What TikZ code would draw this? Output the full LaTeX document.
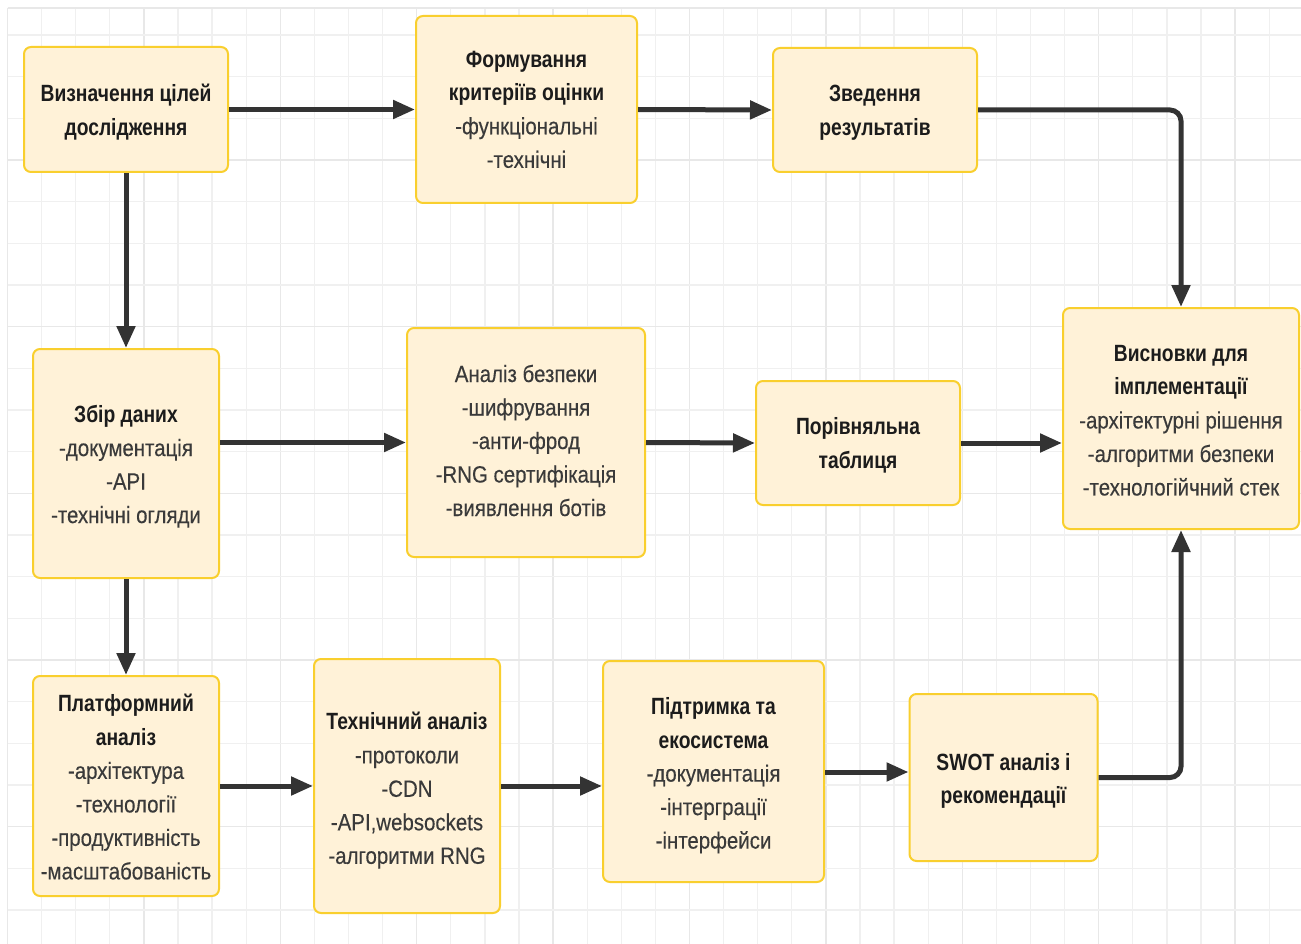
\documentclass[tikz,border=0pt]{standalone}
\usepackage{fontspec}
\setmainfont{Liberation Sans}[FakeStretch=0.87, FakeBold=0.3]
\newfontfamily\headfont{Liberation Sans Bold}[FakeStretch=0.82]
\usetikzlibrary{arrows.meta}

\definecolor{gridminor}{HTML}{F0F0F0}
\definecolor{gridmajor}{HTML}{E8E8E8}
\definecolor{boxfill}{HTML}{FFF2D8}
\definecolor{boxline}{HTML}{F9CF2E}
\definecolor{headtext}{HTML}{1C1C1C}
\definecolor{bodytext}{HTML}{3A3A3A}
\definecolor{arrowc}{HTML}{333333}

\newcommand{\hd}[1]{{\headfont\color{headtext}#1}}

\begin{document}
\begin{tikzpicture}[x=1pt,y=-1pt,
  box/.style={draw=boxline, fill=boxfill, line width=2pt, rounded corners=7pt,
    inner sep=0pt},
  txt/.style={align=center, inner sep=0pt, text=bodytext,
    font=\fontsize{23.5}{33.5}\selectfont},
  flow/.style={draw=arrowc, line width=5pt,
    -{Triangle[length=22pt,width=18pt]}},
  elbow/.style={flow, rounded corners=11pt}]

\useasboundingbox (0,0) rectangle (1301,944);
\fill[white] (0,0) rectangle (1301,944);

% background grid
\foreach \k in {0,...,37}{
  \pgfmathsetmacro{\gx}{7.5+34.1*\k}
  \pgfmathtruncatemacro{\m}{mod(\k,4)}
  \ifnum\m=0
    \draw[gridmajor, line width=1.3pt] (\gx,8) -- (\gx,944);
  \else
    \draw[gridminor, line width=1.3pt] (\gx,8) -- (\gx,944);
  \fi
}
\foreach \k in {0,...,21}{
  \pgfmathsetmacro{\gy}{35+41.67*\k}
  \pgfmathtruncatemacro{\m}{mod(\k,4)}
  \ifnum\m=3
    \draw[gridmajor, line width=1.3pt] (7.5,\gy) -- (1301,\gy);
  \else
    \draw[gridminor, line width=1.3pt] (7.5,\gy) -- (1301,\gy);
  \fi
}
\draw[gridmajor, line width=1.3pt] (7.5,8) -- (1301,8);

% process boxes, each with its centred text block
\node[box, minimum width=204pt, minimum height=125pt,
  label={[txt, name=goals-t, yshift=-2.5pt]center:{\hd{Визначення цілей}\\\hd{дослідження}}}]
  (goals) at (126,109.5) {};
\node[box, minimum width=221pt, minimum height=187pt,
  label={[txt, name=criteria-t]center:{\hd{Формування}\\\hd{критеріїв оцінки}\\-функціональні\\-технічні}}]
  (criteria) at (526.5,109.5) {};
\node[box, minimum width=204pt, minimum height=124pt,
  label={[txt, name=summary-t, yshift=-2.5pt]center:{\hd{Зведення}\\\hd{результатів}}}]
  (summary) at (875,110) {};
\node[box, minimum width=236pt, minimum height=221pt,
  label={[txt, name=conclusions-t, yshift=-2pt]center:{\hd{Висновки для}\\\hd{імплементації}\\-архітектурні рішення\\-алгоритми безпеки\\-технологійчний стек}}]
  (conclusions) at (1181,418.5) {};
\node[box, minimum width=186pt, minimum height=229pt,
  label={[txt, name=collect-t, yshift=-3pt]center:{\hd{Збір даних}\\-документація\\-API\\-технічні огляди}}]
  (collect) at (126,463.5) {};
\node[box, minimum width=238pt, minimum height=229pt,
  label={[txt, name=security-t, yshift=2pt]center:{Аналіз безпеки\\-шифрування\\-анти-фрод\\-RNG сертифікація\\-виявлення ботів}}]
  (security) at (526,442.5) {};
\node[box, minimum width=204pt, minimum height=124pt,
  label={[txt, name=table-t, yshift=-2.5pt]center:{\hd{Порівняльна}\\\hd{таблиця}}}]
  (table) at (858,443) {};
\node[box, minimum width=186pt, minimum height=220pt,
  label={[txt, name=platform-t, yshift=-1pt]center:{\hd{Платформний}\\\hd{аналіз}\\-архітектура\\-технології\\-продуктивність\\-масштабованість}}]
  (platform) at (126,786) {};
\node[box, minimum width=186pt, minimum height=254pt,
  label={[txt, name=technical-t, yshift=-4.5pt]center:{\hd{Технічний аналіз}\\-протоколи\\-CDN\\-API,websockets\\-алгоритми RNG}}]
  (technical) at (407,786) {};
\node[box, minimum width=221pt, minimum height=221pt,
  label={[txt, name=support-t, yshift=-4pt]center:{\hd{Підтримка та}\\\hd{екосистема}\\-документація\\-інтерграції\\-інтерфейси}}]
  (support) at (713.5,771.5) {};
\node[box, minimum width=188pt, minimum height=167pt,
  label={[txt, name=swot-t, yshift=-3.5pt]center:{\hd{SWOT аналіз і}\\\hd{рекомендації}}}]
  (swot) at (1003.5,777.5) {};

% connectors
\draw[flow] (goals.east) -- (criteria.west);
\draw[flow] (criteria.east) -- (summary.west);
\draw[elbow] (summary.east) -| (conclusions.north);
\draw[flow] (goals.south) -- (collect.north);
\draw[flow] (security.west -| collect.east) -- (security.west);
\draw[flow] (security.east) -- (table.west);
\draw[flow] (table.east) -- (table.east -| conclusions.west);
\draw[flow] (collect.south) -- (platform.north);
\draw[flow] (platform.east) -- (technical.west);
\draw[flow] (technical.east) -- (technical.east -| support.west);
\draw[flow] ([yshift=-0.5pt]support.east) -- ([yshift=-0.5pt]support.east -| swot.west);
\draw[elbow] (swot.east) -| (conclusions.south);

\end{tikzpicture}
\end{document}
